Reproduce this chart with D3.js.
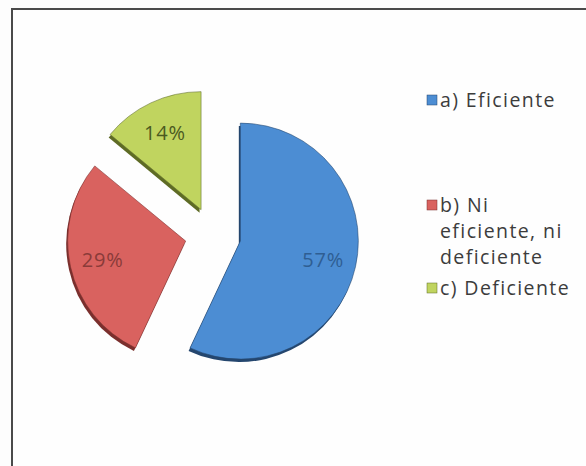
<!DOCTYPE html>
<html>
<head>
<meta charset="utf-8">
<script src="https://cdn.jsdelivr.net/npm/d3@7"></script>
<style>
  html, body { margin: 0; padding: 0; background: #fdfdfd; }
  svg { display: block; }
  text { font-family: "Open Sans", Lato, sans-serif; }
</style>
</head>
<body>
<svg id="chart" width="586" height="466"></svg>
<script>
// Survey answers, share of respondents (%)
const categories = ["a) Eficiente", "b) Ni eficiente, ni deficiente", "c) Deficiente"];
const legendLines = [["a) Eficiente"], ["b) Ni", "eficiente, ni", "deficiente"], ["c) Deficiente"]];
const values = [57, 29, 14];
const fills = ["#4c8dd3", "#d9625f", "#c0d45f"];
const sides = ["#24466e", "#7a2f2d", "#5e6b25"];
const labelInk = ["#2f5e92", "#8a3b39", "#4b5a1f"];

const svg = d3.select("#chart");

// outer frame of the chart area (runs past the right and bottom edges)
svg.append("rect")
  .attr("x", 12).attr("y", 9)
  .attr("width", 600).attr("height", 480)
  .attr("fill", "#fefefe")
  .attr("stroke", "#4a4a4a")
  .attr("stroke-width", 2);

const cx = 213, cy = 235, r = 118, explode = 28;

const pie = d3.pie().sort(null).startAngle(0).endAngle(2 * Math.PI);
const arcs = pie(values);
const arc = d3.arc().innerRadius(0).outerRadius(r);
const labelArc = d3.arc().innerRadius(85).outerRadius(85);

const color = d3.scaleOrdinal().domain(categories).range(fills);
const side = d3.scaleOrdinal().domain(categories).range(sides);
const ink = d3.scaleOrdinal().domain(categories).range(labelInk);

const g = svg.append("g").attr("transform", `translate(${cx},${cy})`);

function shift(d) {
  const a = (d.startAngle + d.endAngle) / 2;
  return [Math.sin(a) * explode, -Math.cos(a) * explode];
}

const slices = g.selectAll("g.slice").data(arcs).join("g")
  .attr("class", "slice")
  .attr("transform", d => { const [x, y] = shift(d); return `translate(${x},${y})`; });

// thin extruded side under each slice
slices.append("path")
  .attr("d", arc)
  .attr("transform", "translate(-1.5,3)")
  .attr("fill", (d, i) => side(categories[i]));

slices.append("path")
  .attr("d", arc)
  .attr("fill", (d, i) => color(categories[i]))
  .attr("stroke", (d, i) => side(categories[i]))
  .attr("stroke-width", 0.8)
  .attr("stroke-opacity", 0.7);

slices.append("text")
  .attr("transform", d => { const [x, y] = labelArc.centroid(d); return `translate(${x},${y})`; })
  .attr("text-anchor", "middle")
  .attr("dy", "0.36em")
  .attr("font-size", 20)
  .attr("letter-spacing", 0.8)
  .attr("fill", (d, i) => ink(categories[i]))
  .text(d => d3.format(".0%")(d.data / d3.sum(values)));

// legend
const legendY = [100, 205, 288];
const legend = svg.append("g").selectAll("g").data(categories).join("g")
  .attr("transform", (d, i) => `translate(427,${legendY[i]})`);

legend.append("rect")
  .attr("x", 0).attr("y", -5).attr("width", 10).attr("height", 10)
  .attr("fill", d => color(d))
  .attr("stroke", d => side(d)).attr("stroke-width", 0.5);

legend.append("text")
  .attr("font-size", 19.5)
  .attr("letter-spacing", 1.4)
  .attr("fill", "#3c3c3c")
  .selectAll("tspan").data((d, i) => legendLines[i]).join("tspan")
  .attr("x", 13)
  .attr("y", (d, j) => j * 26)
  .attr("dy", "0.35em")
  .text(d => d);
</script>
</body>
</html>
